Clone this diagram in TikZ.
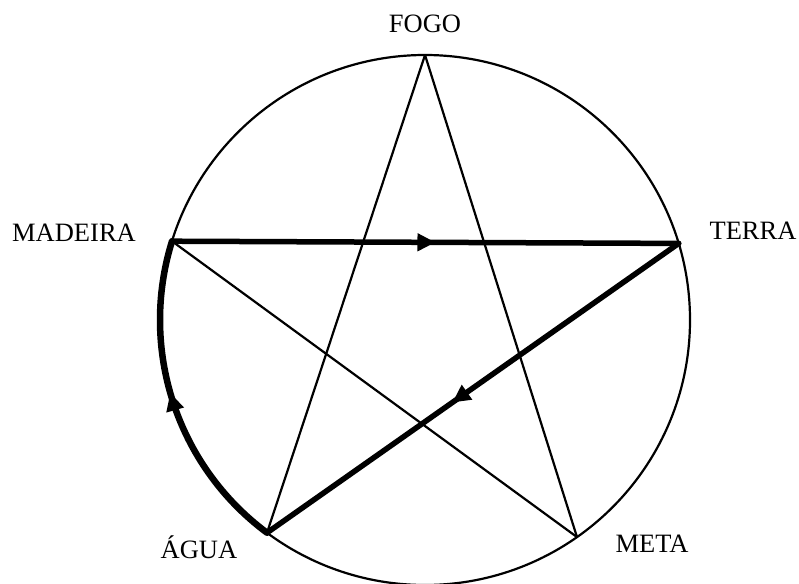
\documentclass[tikz,border=0pt]{standalone}
\usepackage{fontspec}
\setmainfont{Liberation Serif}
\usetikzlibrary{arrows.meta,decorations.markings,calc}
\begin{document}
\begin{tikzpicture}[x=1pt,y=1pt,
  thinline/.style={line width=2.2pt},
  thickline/.style={line width=5.5pt, line cap=round},
  arcline/.style={line width=6.5pt, line cap=round},
  lbl/.style={font=\fontsize{26.5}{31}\selectfont, inner sep=0pt, anchor=base},
  midarrow/.style={postaction={decorate},decoration={markings,
     mark=at position #1 with {\arrow{Triangle[length=18pt,width=17pt]}}}}]
\useasboundingbox (0,0) rectangle (799,-583);
\coordinate (O) at (425,-320);
\coordinate (F) at ($(O)+(90:265)$);
\coordinate (Md) at ($(O)+(162.7:265)$);
\coordinate (T) at ($(O)+(16.8:265)$);
\coordinate (A) at ($(O)+(233.4:265)$);
\coordinate (Mt) at ($(O)+(305:265)$);
% circle
\draw[thinline] (O) circle[radius=265];
% thin star lines
\draw[thinline] (F) -- (A);
\draw[thinline] (F) -- (Mt);
\draw[thinline] (Md) -- (Mt);
% thick directed lines
\draw[thickline, midarrow=0.52] (Md) -- (T);
\draw[thickline, midarrow=0.55] (T) -- (A);
\draw[arcline, midarrow=0.53] (A) arc[start angle=233.4, end angle=162.7, radius=265];
% labels
\node[lbl] (lf) at (425,-33) {FOGO};
\node[lbl] (lmd) at (74,-241) {MADEIRA};
\node[lbl] (lt) at (753,-239) {TERRA};
\node[lbl] (la) at (199,-558) {ÁGUA};
\node[lbl] (lmt) at (652,-552) {META};
\end{tikzpicture}
\end{document}
